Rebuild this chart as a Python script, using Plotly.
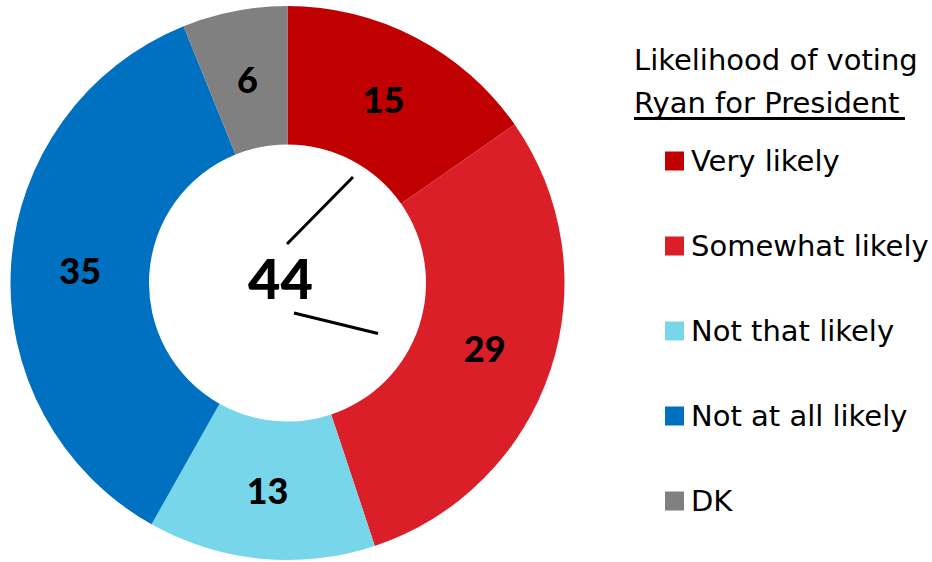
import math
import plotly.graph_objects as go

labels = ["Very likely", "Somewhat likely", "Not that likely", "Not at all likely", "DK"]
values = [15, 29, 13, 35, 6]
colors = ["#C00000", "#DA1F28", "#78D6EA", "#0070C0", "#808080"]
legend_title = ["Likelihood of voting", "Ryan for President"]
center_value = values[0] + values[1]

W, H = 932, 562
NUM_FONT = "Lato"
TXT_FONT = "DejaVu Sans"

# pie geometry in pixels
CX, CY, R_OUT, HOLE = 287.5, 283, 277, 0.5


def px(x):
    return x / W


def py(y):
    return 1 - y / H


# slices too thin for plotly's inside placement get a label at the ring middle
small = [v < 10 for v in values]
texts = ["" if s else str(v) for v, s in zip(values, small)]

fig = go.Figure()
fig.add_trace(go.Pie(
    labels=labels,
    values=values,
    text=texts,
    marker=dict(colors=colors, line=dict(width=0)),
    hole=HOLE,
    sort=False,
    direction="clockwise",
    rotation=0,
    texttemplate="%{text}",
    textposition="inside",
    insidetextorientation="horizontal",
    textfont=dict(family=NUM_FONT, size=36, color="black", weight=900),
    domain=dict(x=[px(CX - R_OUT), px(CX + R_OUT)], y=[py(CY + R_OUT), py(CY - R_OUT)]),
    showlegend=False,
    hoverinfo="label+value",
))

annotations = [
    dict(x=px(280), y=py(277), xref="paper", yref="paper", text=str(center_value),
         showarrow=False, font=dict(family=NUM_FONT, size=56, color="black", weight=900),
         xanchor="center", yanchor="middle"),
    dict(x=px(632), y=py(60), xref="paper", yref="paper", text=legend_title[0],
         showarrow=False, font=dict(family=TXT_FONT, size=29, color="black"),
         xanchor="left", yanchor="middle"),
    dict(x=px(632), y=py(103), xref="paper", yref="paper", text=legend_title[1],
         showarrow=False, font=dict(family=TXT_FONT, size=29, color="black"),
         xanchor="left", yanchor="middle"),
]

total = sum(values)
cum = 0
r_mid = R_OUT * (1 + HOLE) / 2
for v, s in zip(values, small):
    mid = (cum + v / 2) / total * 2 * math.pi
    cum += v
    if s:
        annotations.append(dict(x=px(CX + r_mid * math.sin(mid)), y=py(CY - r_mid * math.cos(mid)),
                                xref="paper", yref="paper", text=str(v), showarrow=False,
                                font=dict(family=NUM_FONT, size=36, color="black", weight=900),
                                xanchor="center", yanchor="middle"))

shapes = [
    dict(type="line", xref="paper", yref="paper", x0=px(287), y0=py(244), x1=px(353), y1=py(177),
         line=dict(color="black", width=3)),
    dict(type="line", xref="paper", yref="paper", x0=px(294), y0=py(313), x1=px(378), y1=py(333.5),
         line=dict(color="black", width=3)),
    dict(type="line", xref="paper", yref="paper", x0=px(634), y0=py(118.5), x1=px(905), y1=py(118.5),
         line=dict(color="black", width=3)),
]

y0, dy = 161, 85
for i, (lab, col) in enumerate(zip(labels, colors)):
    yc = y0 + i * dy
    shapes.append(dict(type="rect", xref="paper", yref="paper",
                       x0=px(665), x1=px(684), y0=py(yc - 9.5), y1=py(yc + 9.5),
                       fillcolor=col, line=dict(width=0)))
    annotations.append(dict(x=px(689), y=py(yc), xref="paper", yref="paper", text=lab,
                            showarrow=False, font=dict(family=TXT_FONT, size=29, color="black"),
                            xanchor="left", yanchor="middle"))

fig.update_layout(
    width=W, height=H,
    margin=dict(l=0, r=0, t=0, b=0),
    paper_bgcolor="white", plot_bgcolor="white",
    annotations=annotations, shapes=shapes,
)

fig.write_html("out.html", config={"displayModeBar": False},
               post_script="document.body.style.margin='0px';")
